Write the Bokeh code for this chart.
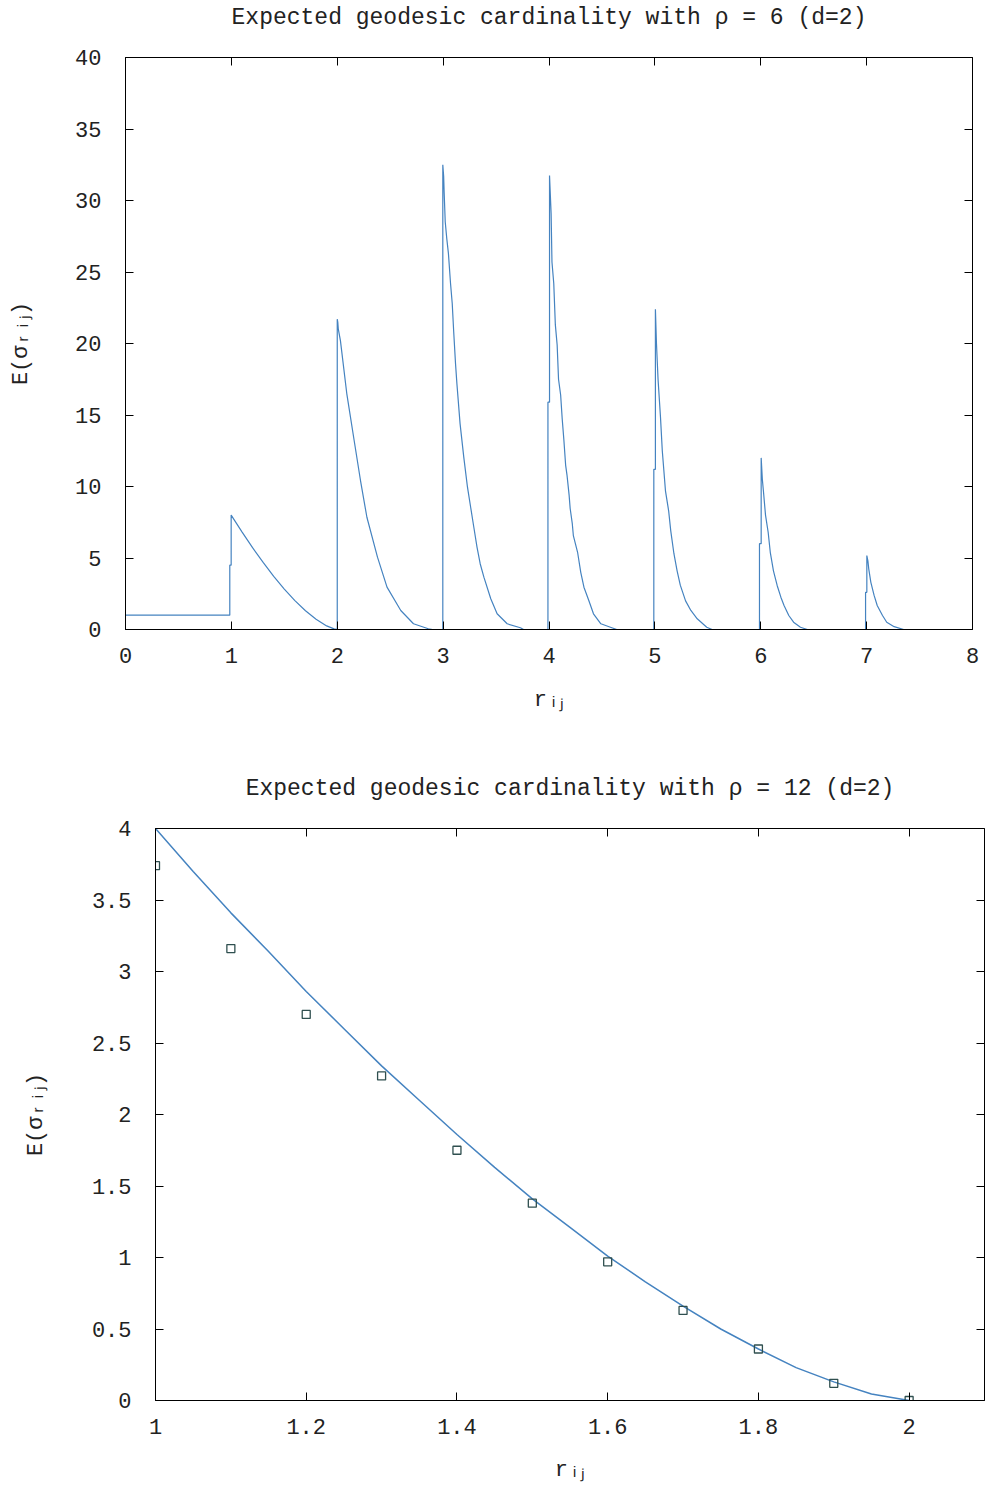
from bokeh.plotting import figure
from bokeh.models import LinearAxis, FixedTicker, PrintfTickFormatter, Range1d, CustomJSTickFormatter
from bokeh.embed import file_html
from bokeh.resources import INLINE

# ---------------- data: top panel (rho = 6) ----------------
top_title = "Expected geodesic cardinality with \u03c1 = 6 (d=2)"
top_x = [0.0, 0.985, 0.985, 0.998, 0.998, 1.1, 1.2, 1.3, 1.4, 1.5, 1.6, 1.7, 1.8, 1.9, 1.97, 2.0,
         2.0, 2.005, 2.01, 2.03, 2.09, 2.16, 2.22, 2.28, 2.38, 2.47, 2.60, 2.72, 2.86, 2.9,
         2.997, 2.997, 3.005, 3.01, 3.02, 3.035, 3.05, 3.07, 3.086, 3.10, 3.117, 3.13, 3.16, 3.195,
         3.23, 3.26, 3.29, 3.32, 3.35, 3.385, 3.45, 3.51, 3.605, 3.73, 3.76,
         3.99, 3.99, 4.005, 4.005, 4.02, 4.028, 4.045, 4.06, 4.077, 4.09, 4.11, 4.125, 4.14, 4.157,
         4.17, 4.19, 4.20, 4.22, 4.23, 4.27, 4.30, 4.33, 4.376, 4.42, 4.49, 4.58, 4.64,
         4.99, 4.99, 5.005, 5.005, 5.015, 5.03, 5.053, 5.07, 5.10, 5.13, 5.15, 5.18, 5.21, 5.24,
         5.29, 5.34, 5.40, 5.49, 5.54,
         5.988, 5.988, 6.004, 6.004, 6.015, 6.025, 6.045, 6.07, 6.09, 6.12, 6.155, 6.19, 6.22,
         6.265, 6.31, 6.375, 6.44,
         6.99, 6.99, 7.002, 7.002, 7.012, 7.02, 7.04, 7.07, 7.10, 7.15, 7.19, 7.26, 7.35]
top_y = [1.0, 1.0, 4.5, 4.5, 8.0, 6.83, 5.72, 4.69, 3.72, 2.83, 2.02, 1.31, 0.72, 0.25, 0.04, 0.0,
         21.7, 21.5, 21.0, 20.2, 16.5, 13.2, 10.4, 7.85, 5.06, 2.96, 1.33, 0.4, 0.05, 0.0,
         0.0, 32.5, 31.7, 30.5, 28.5, 27.3, 26.3, 24.2, 22.8, 20.8, 18.6, 17.2, 14.4, 12.05,
         9.95, 8.55, 7.15, 5.76, 4.6, 3.66, 2.15, 1.1, 0.4, 0.12, 0.0,
         0.0, 15.9, 15.9, 31.75, 29.1, 25.7, 24.2, 21.3, 19.9, 17.5, 16.4, 14.7, 13.3, 11.5,
         10.8, 9.4, 8.46, 7.4, 6.57, 5.4, 4.0, 2.96, 2.03, 1.1, 0.4, 0.16, 0.0,
         0.0, 11.2, 11.2, 22.4, 20.0, 17.5, 14.85, 12.5, 9.7, 8.3, 6.9, 5.3, 4.1, 3.1,
         2.0, 1.33, 0.75, 0.16, 0.0,
         0.0, 6.0, 6.0, 12.0, 10.5, 9.7, 8.0, 6.8, 5.4, 4.1, 3.08, 2.26, 1.68,
         0.98, 0.51, 0.16, 0.0,
         0.0, 2.6, 2.6, 5.17, 4.8, 4.24, 3.3, 2.4, 1.68, 0.98, 0.51, 0.2, 0.0]
top_xticks = [0, 1, 2, 3, 4, 5, 6, 7, 8]
top_yticks = [0, 5, 10, 15, 20, 25, 30, 35, 40]

# ---------------- data: bottom panel (rho = 12) ----------------
bot_title = "Expected geodesic cardinality with \u03c1 = 12 (d=2)"
bot_line_x = [1.0, 1.05, 1.1, 1.15, 1.2, 1.25, 1.3, 1.35, 1.4, 1.45, 1.5, 1.55, 1.6, 1.65,
              1.7, 1.75, 1.8, 1.85, 1.9, 1.95, 2.0]
bot_line_y = [4.0, 3.70, 3.41, 3.14, 2.86, 2.60, 2.34, 2.10, 1.86, 1.63, 1.41, 1.21, 1.01, 0.83,
              0.66, 0.50, 0.36, 0.23, 0.13, 0.045, 0.0]
bot_pts_x = [1.0, 1.1, 1.2, 1.3, 1.4, 1.5, 1.6, 1.7, 1.8, 1.9, 2.0]
bot_pts_y = [3.74, 3.16, 2.70, 2.27, 1.75, 1.38, 0.97, 0.63, 0.36, 0.12, 0.0]
bot_xticks = [1.0, 1.2, 1.4, 1.6, 1.8, 2.0]
bot_yticks = [0, 0.5, 1, 1.5, 2, 2.5, 3, 3.5, 4]

x_label = "r\u1d62\u2c7c"
y_label = "E(\u03c3\u1d63\u1d62\u2c7c)"

FONT = "Liberation Mono"
LINE_COLOR = "#4583c0"
PT_COLOR = "#2f4f4f"
TXT = "#222222"


def style(p, xticks, yticks, title, title_standoff):
    p.outline_line_color = "black"
    p.outline_line_width = 1
    p.xgrid.visible = False
    p.ygrid.visible = False
    xa = p.below[0]
    ya = p.left[0]
    for ax in (xa, ya):
        ax.major_tick_in = 8
        ax.major_tick_out = 0
        ax.minor_tick_line_color = None
        ax.axis_line_color = "black"
        ax.major_tick_line_color = "black"
        ax.major_label_text_font = FONT
        ax.major_label_text_font_size = "22px"
        ax.major_label_text_color = TXT
        ax.axis_label_text_font = FONT
        ax.axis_label_text_font_size = "22px"
        ax.axis_label_text_font_style = "normal"
        ax.axis_label_text_color = TXT
        ax.formatter = PrintfTickFormatter(format="%g")
    xa.ticker = FixedTicker(ticks=xticks)
    ya.ticker = FixedTicker(ticks=yticks)
    # mirror ticks on top and right (gnuplot style), no tick labels;
    # the top one carries the chart title as its label
    top = LinearAxis(ticker=FixedTicker(ticks=xticks),
                     formatter=CustomJSTickFormatter(code="return ''"),
                     axis_label=title)
    right = LinearAxis(ticker=FixedTicker(ticks=yticks),
                       formatter=CustomJSTickFormatter(code="return ''"))
    for ax in (top, right):
        ax.major_tick_in = 8
        ax.major_tick_out = 0
        ax.minor_tick_line_color = None
        ax.axis_line_color = None
        ax.major_label_standoff = 0
    top.axis_label_text_font = FONT
    top.axis_label_text_font_size = "23px"
    top.axis_label_text_font_style = "normal"
    top.axis_label_text_color = TXT
    top.axis_label_standoff = title_standoff
    p.add_layout(top, "above")
    p.add_layout(right, "right")
    return xa, ya


# ---------------- top figure ----------------
p1 = figure(frame_width=847, frame_height=572, min_border_left=125, min_border_right=13,
            min_border_top=57, min_border_bottom=116, x_range=Range1d(0, 8), y_range=Range1d(0, 40),
            output_backend="svg", toolbar_location=None,
            x_axis_label=x_label, y_axis_label=y_label)
p1.line(top_x, top_y, line_color=LINE_COLOR, line_width=1.2)
xa1, ya1 = style(p1, top_xticks, top_yticks, top_title, 27)
xa1.major_label_standoff = 18
xa1.axis_label_standoff = 22
ya1.major_label_standoff = 24
ya1.axis_label_standoff = 38

# ---------------- bottom figure ----------------
p2 = figure(frame_width=829, frame_height=572, min_border_left=155, min_border_right=1,
            min_border_top=83, min_border_bottom=90, x_range=Range1d(1, 2.1), y_range=Range1d(0, 4),
            output_backend="svg", toolbar_location=None,
            x_axis_label=x_label, y_axis_label=y_label)
p2.line(bot_line_x, bot_line_y, line_color=LINE_COLOR, line_width=1.5)
p2.scatter(bot_pts_x, bot_pts_y, marker="square", size=8, fill_color=None,
           line_color=PT_COLOR, line_width=1.3)
xa2, ya2 = style(p2, bot_xticks, bot_yticks, bot_title, 27)
xa2.major_label_standoff = 18
xa2.axis_label_standoff = 21
ya2.major_label_standoff = 24
ya2.axis_label_standoff = 40

open("out.html", "w").write(file_html([p1, p2], INLINE))
